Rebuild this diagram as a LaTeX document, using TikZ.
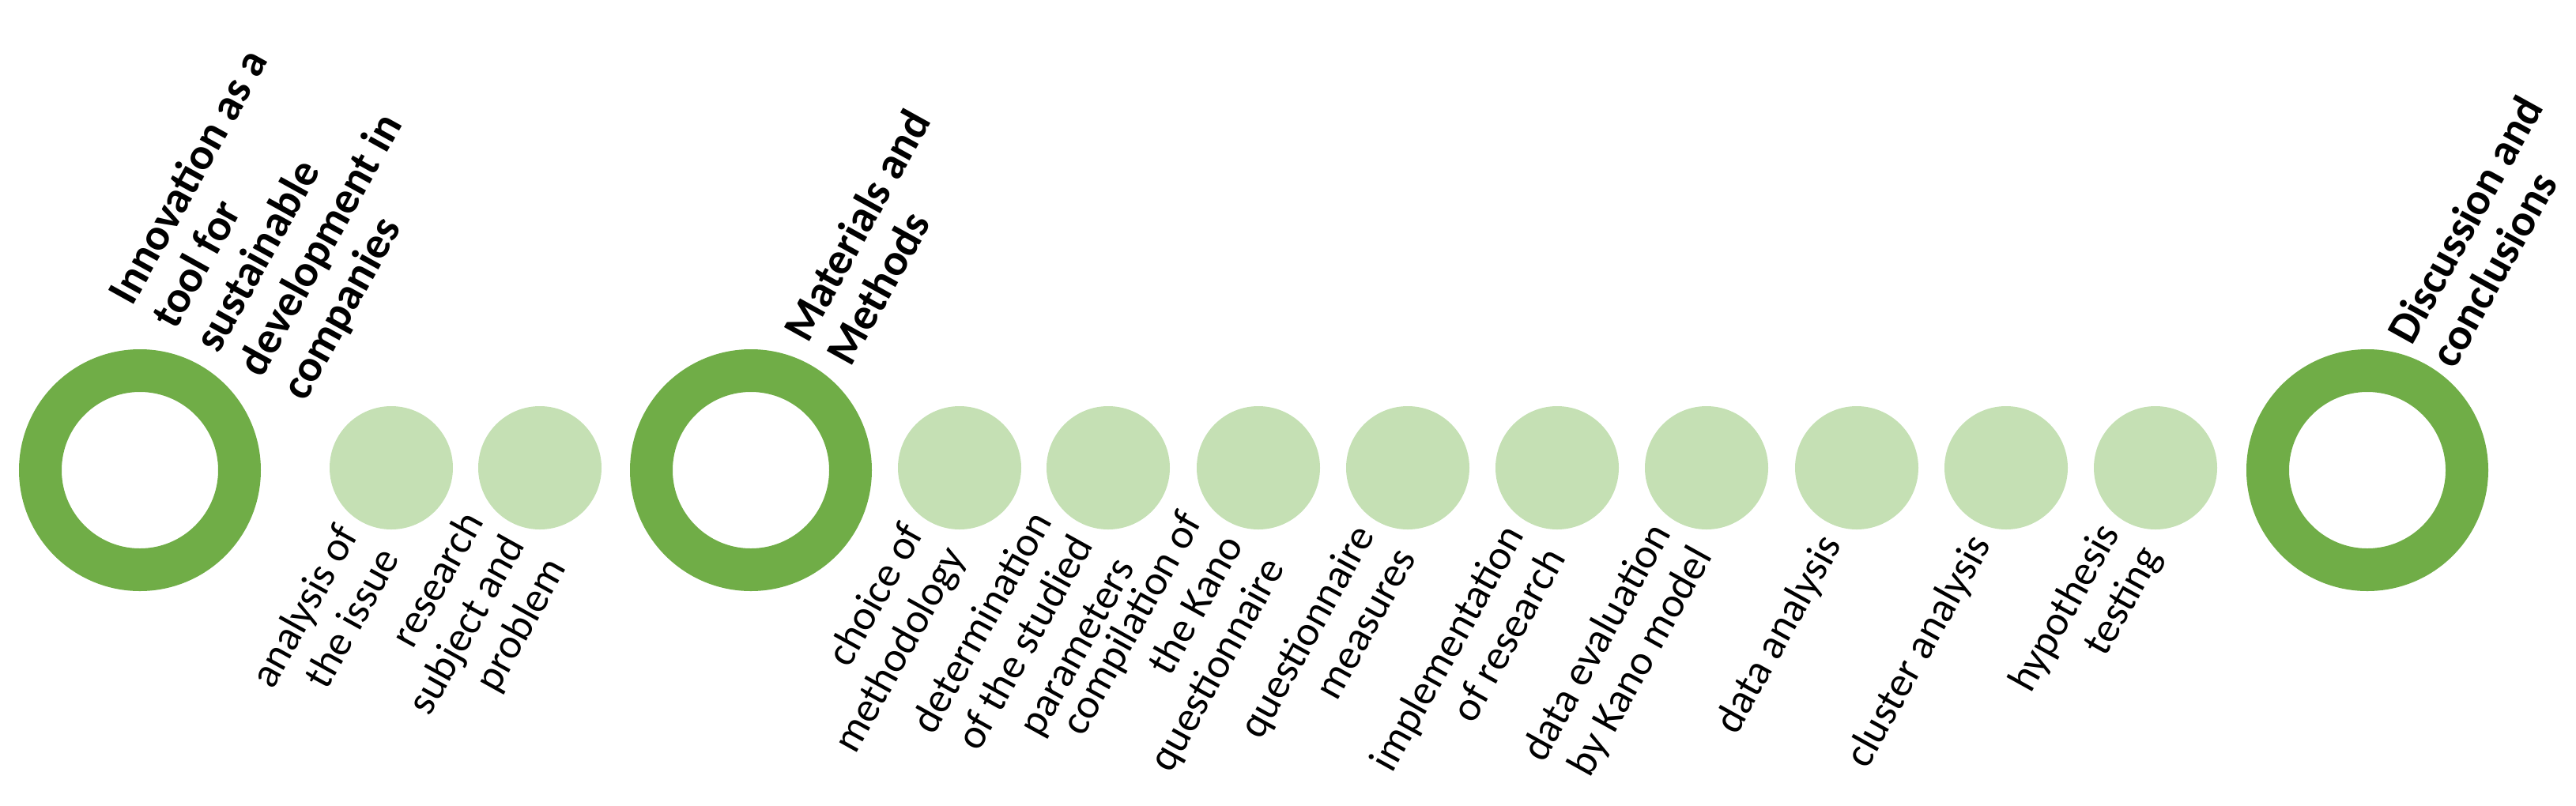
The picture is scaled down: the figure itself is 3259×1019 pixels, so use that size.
\documentclass[tikz,border=0pt]{standalone}
\usepackage{fontspec}
\setmainfont{Carlito}
\definecolor{ringgreen}{HTML}{70AD47}
\definecolor{dotgreen}{HTML}{C5E0B4}
\begin{document}
\begin{tikzpicture}[x=0.25pt,y=-0.25pt,
  ring/.style={circle,draw=ringgreen,line width=13.5pt,minimum size=63pt,inner sep=0pt,outer sep=0pt},
  dot/.style={circle,fill=dotgreen,minimum size=39pt,inner sep=0pt,outer sep=0pt},
  head/.style={rotate=61,anchor=west,align=left,inner sep=0pt,font=\fontsize{14.1}{15.6}\selectfont\bfseries},
  sub/.style={rotate=61,anchor=east,align=right,inner sep=0pt,font=\fontsize{13.3}{15}\selectfont}]
\useasboundingbox (0,0) rectangle (3259,1019);
% rings
\node[ring] (r1) at (177,595) {};
\node[ring] (r2) at (950,595) {};
\node[ring] (r3) at (2995,595) {};
% dots
\node[dot] (d1) at (495,592) {};
\node[dot] (d2) at (683,592) {};
\node[dot] (d3) at (1214,592) {};
\node[dot] (d4) at (1402,592) {};
\node[dot] (d5) at (1592,592) {};
\node[dot] (d6) at (1781,592) {};
\node[dot] (d7) at (1970,592) {};
\node[dot] (d8) at (2159,592) {};
\node[dot] (d9) at (2349,592) {};
\node[dot] (d10) at (2538,592) {};
\node[dot] (d11) at (2727,592) {};
% headings
\node[head] (h1) at ([shift={(86,-153)}]r1.center) {Innovation as a\\tool for\\sustainable\\development in\\companies};
\node[head] (h2) at ([shift={(82,-153)}]r2.center) {Materials and\\Methods};
\node[head] (h3) at ([shift={(66,-150)}]r3.center) {Discussion and\\conclusions};
% sub labels
\node[sub] (t1) at ([shift={(-30,90)}]d1.center) {analysis of\\the issue};
\node[sub] (t2) at ([shift={(-30,90)}]d2.center) {research\\subject and\\problem};
\node[sub] (t3) at ([shift={(-30,90)}]d3.center) {choice of\\methodology};
\node[sub] (t4) at ([shift={(-30,90)}]d4.center) {determination\\of the studied\\parameters};
\node[sub] (t5) at ([shift={(-30,90)}]d5.center) {compilation of\\the Kano\\questionnaire};
\node[sub] (t6) at ([shift={(-30,90)}]d6.center) {questionnaire\\measures};
\node[sub] (t7) at ([shift={(-30,90)}]d7.center) {implementation\\of research};
\node[sub] (t8) at ([shift={(-30,90)}]d8.center) {data evaluation\\by Kano model};
\node[sub] (t9) at ([shift={(-30,90)}]d9.center) {data analysis};
\node[sub] (t10) at ([shift={(-30,90)}]d10.center) {cluster analysis};
\node[sub] (t11) at ([shift={(-30,90)}]d11.center) {hypothesis\\testing};
\end{tikzpicture}
\end{document}
